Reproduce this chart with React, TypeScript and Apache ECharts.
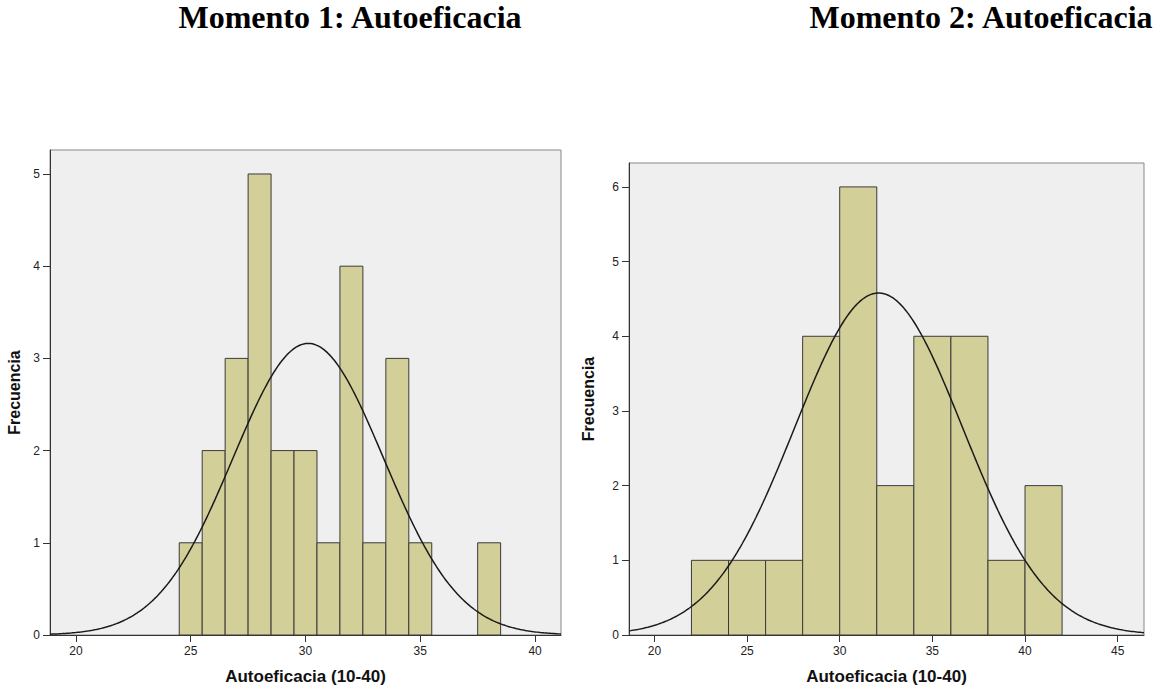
import React, { useEffect, useRef } from "react";
import * as echarts from "echarts";

// ---- Data ----
const titles = ["Momento 1: Autoeficacia", "Momento 2: Autoeficacia"];
const xAxisName = "Autoeficacia (10-40)";
const yAxisName = "Frecuencia";

// Moment 1: bins of width 1 centered at integers
const m1BinStarts = [24.5, 25.5, 26.5, 27.5, 28.5, 29.5, 30.5, 31.5, 32.5, 33.5, 34.5, 35.5, 36.5, 37.5];
const m1Counts = [1, 2, 3, 5, 2, 2, 1, 4, 1, 3, 1, 0, 0, 1];
const m1BinWidth = 1;
const m1Mean = 30.12;
const m1Sd = 3.28;
const m1N = 26;
const m1XTicks = [20, 25, 30, 35, 40];
const m1YTicks = [0, 1, 2, 3, 4, 5];
const m1XRange = [18.87, 41.13];
const m1YMax = 5.26;

// Moment 2: bins of width 2
const m2BinStarts = [22, 24, 26, 28, 30, 32, 34, 36, 38, 40];
const m2Counts = [1, 1, 1, 4, 6, 2, 4, 4, 1, 2];
const m2BinWidth = 2;
const m2Mean = 32.1;
const m2Sd = 4.53;
const m2N = 26;
const m2XTicks = [20, 25, 30, 35, 40, 45];
const m2YTicks = [0, 1, 2, 3, 4, 5, 6];
const m2XRange = [18.63, 46.42];
const m2YMax = 6.32;

// ---- Styles ----
const barFill = "#d3cf99";
const barStroke = "#3a3a3a";
const plotBg = "#efefef";

function normalCurve(mean: number, sd: number, n: number, bw: number, range: number[]) {
  const pts: number[][] = [];
  const steps = 300;
  for (let i = 0; i <= steps; i++) {
    const x = range[0] + ((range[1] - range[0]) * i) / steps;
    const z = (x - mean) / sd;
    const y = (n * bw * Math.exp(-0.5 * z * z)) / (sd * Math.sqrt(2 * Math.PI));
    pts.push([x, y]);
  }
  return pts;
}

function histData(starts: number[], counts: number[], bw: number) {
  return starts
    .map((s, i) => [s, s + bw, counts[i]])
    .filter((d) => d[2] > 0);
}

const renderBar = (params: any, api: any) => {
  const x0 = api.value(0);
  const x1 = api.value(1);
  const c = api.value(2);
  const p0 = api.coord([x0, c]);
  const p1 = api.coord([x1, 0]);
  return {
    type: "rect",
    shape: { x: p0[0], y: p0[1], width: p1[0] - p0[0], height: p1[1] - p0[1] },
    style: { fill: barFill, stroke: barStroke, lineWidth: 1 },
  };
};

const tickLabelStyle = {
  color: "#222",
  fontSize: 12,
  fontFamily: "Liberation Sans, Arial, sans-serif",
};

function makeXAxis(gridIndex: number, range: number[], ticks: number[]) {
  return {
    type: "value",
    gridIndex,
    min: range[0],
    max: range[1],
    name: xAxisName,
    nameLocation: "middle",
    nameGap: 33,
    nameTextStyle: {
      fontFamily: "Liberation Sans, Arial, sans-serif",
      fontWeight: "bold",
      fontSize: 17,
      color: "#111",
    },
    splitLine: { show: false },
    axisLine: { show: true, onZero: false, lineStyle: { color: "#333", width: 1 } },
    axisTick: { show: true, length: 7, customValues: ticks, lineStyle: { color: "#333" } },
    axisLabel: { ...tickLabelStyle, margin: 10, customValues: ticks },
  };
}

function makeYAxis(gridIndex: number, max: number, ticks: number[], nameGap: number) {
  return {
    type: "value",
    gridIndex,
    min: 0,
    max,
    name: yAxisName,
    nameLocation: "middle",
    nameGap,
    nameRotate: 90,
    nameTextStyle: {
      fontFamily: "Liberation Sans, Arial, sans-serif",
      fontWeight: "bold",
      fontSize: 16,
      color: "#111",
    },
    splitLine: { show: false },
    axisLine: { show: true, onZero: false, lineStyle: { color: "#333", width: 1 } },
    axisTick: { show: true, length: 7, customValues: ticks, lineStyle: { color: "#333" } },
    axisLabel: { ...tickLabelStyle, margin: 10, customValues: ticks },
  };
}

export default function App() {
  const ref = useRef<HTMLDivElement>(null);

  useEffect(() => {
    document.body.style.margin = "0";
    if (!ref.current) return;
    const chart = echarts.init(ref.current, undefined, { renderer: "svg" });
    const titleStyle = {
      fontFamily: "Liberation Serif, Times New Roman, serif",
      fontWeight: "bold",
      fontSize: 32,
      fill: "#000",
      align: "center",
      verticalAlign: "middle",
    };
    const option: any = {
      animation: false,
      backgroundColor: "#ffffff",
      graphic: [
        { type: "text", x: 350, y: 17, style: { ...titleStyle, text: titles[0] } },
        { type: "text", x: 981, y: 17, style: { ...titleStyle, text: titles[1] } },
      ],
      grid: [
        {
          left: 50,
          top: 150,
          width: 511,
          height: 487,
          show: true,
          backgroundColor: plotBg,
          borderColor: "#888",
          borderWidth: 1,
        },
        {
          left: 629,
          top: 163,
          width: 515,
          height: 474,
          show: true,
          backgroundColor: plotBg,
          borderColor: "#888",
          borderWidth: 1,
        },
      ],
      xAxis: [makeXAxis(0, m1XRange, m1XTicks), makeXAxis(1, m2XRange, m2XTicks)],
      yAxis: [makeYAxis(0, m1YMax, m1YTicks, 28), makeYAxis(1, m2YMax, m2YTicks, 33)],
      series: [
        {
          type: "custom",
          xAxisIndex: 0,
          yAxisIndex: 0,
          renderItem: renderBar,
          encode: { x: [0, 1], y: 2 },
          data: histData(m1BinStarts, m1Counts, m1BinWidth),
          z: 2,
        },
        {
          type: "line",
          xAxisIndex: 0,
          yAxisIndex: 0,
          data: normalCurve(m1Mean, m1Sd, m1N, m1BinWidth, m1XRange),
          showSymbol: false,
          symbol: "none",
          lineStyle: { color: "#1a1a1a", width: 1.5 },
          z: 3,
        },
        {
          type: "custom",
          xAxisIndex: 1,
          yAxisIndex: 1,
          renderItem: renderBar,
          encode: { x: [0, 1], y: 2 },
          data: histData(m2BinStarts, m2Counts, m2BinWidth),
          z: 2,
        },
        {
          type: "line",
          xAxisIndex: 1,
          yAxisIndex: 1,
          data: normalCurve(m2Mean, m2Sd, m2N, m2BinWidth, m2XRange),
          showSymbol: false,
          symbol: "none",
          lineStyle: { color: "#1a1a1a", width: 1.5 },
          z: 3,
        },
      ],
    };
    chart.setOption(option);
    return () => chart.dispose();
  }, []);

  return (
    <div
      ref={ref}
      style={{ position: "absolute", left: 0, top: 0, width: 1155, height: 690 }}
    />
  );
}
